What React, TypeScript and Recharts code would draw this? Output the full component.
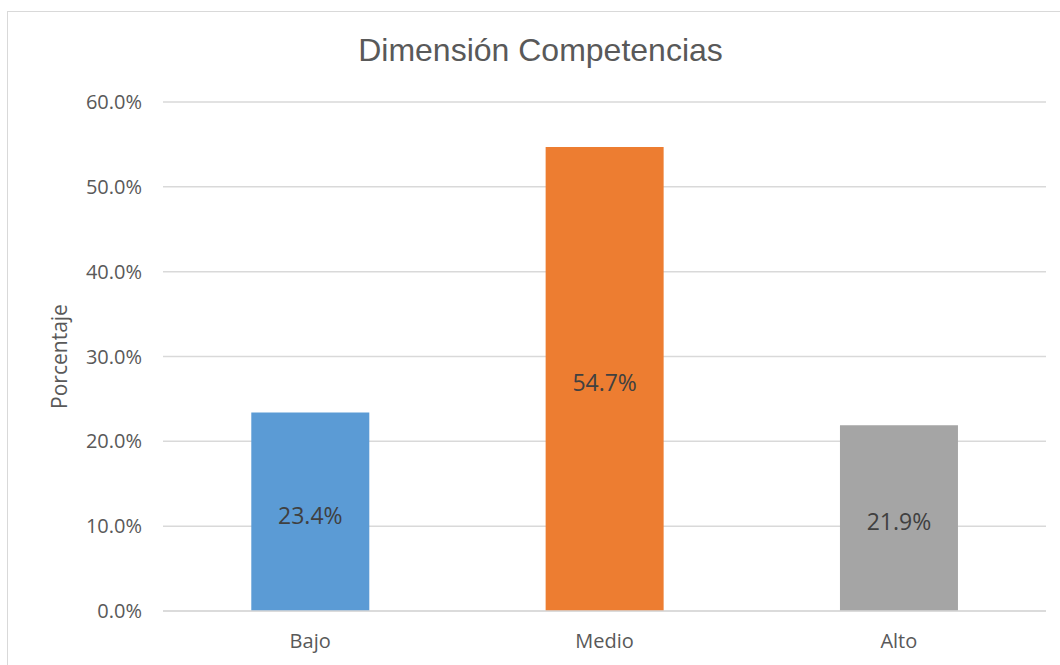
import { BarChart, Bar, XAxis, YAxis, CartesianGrid, Cell, LabelList, Label } from 'recharts'

const categories = ['Bajo', 'Medio', 'Alto']
const values = [0.234, 0.547, 0.219]
const barColors = ['#5B9BD5', '#ED7D31', '#A5A5A5']
const yTicks = [0, 0.1, 0.2, 0.3, 0.4, 0.5, 0.6]

const data = categories.map((name, i) => ({ name, value: values[i] }))

const pct = (v: number) => `${(v * 100).toFixed(1)}%`
const font = '"Open Sans", sans-serif'

export default function App() {
  return (
    <div style={{ position: 'absolute', left: 0, top: 0, width: 1060, height: 665, overflow: 'hidden', background: '#fff', fontFamily: font }}>
      <div style={{ position: 'absolute', left: 7, top: 11, width: 1200, height: 800, border: '1px solid #d9d9d9' }} />
      <div style={{ position: 'absolute', left: 0, top: 34, width: 1081, textAlign: 'center', fontSize: 32, lineHeight: '32px', color: '#595959', fontFamily: '"Liberation Sans", Arial, sans-serif' }}>
        Dimensión Competencias
      </div>
      <div style={{ position: 'absolute', left: 0, top: 0 }}>
        <BarChart width={1060} height={665} data={data} margin={{ top: 102, right: 14, bottom: 0, left: 0 }} barCategoryGap="30%">
          <CartesianGrid vertical={false} stroke="#d9d9d9" strokeWidth={1.5} />
          <XAxis
            dataKey="name"
            height={54}
            tickSize={0}
            tickMargin={23}
            axisLine={{ stroke: '#d9d9d9', strokeWidth: 1.5 }}
            tick={{ fill: '#595959', fontSize: 20, fontFamily: font }}
          />
          <YAxis
            width={163}
            domain={[0, 0.6]}
            ticks={yTicks}
            tickFormatter={pct}
            tickSize={0}
            tickMargin={21}
            axisLine={false}
            tick={{ fill: '#595959', fontSize: 20, fontFamily: font }}
          >
            <Label value="Porcentaje" angle={-90} position="insideLeft" offset={60} style={{ fill: '#595959', fontSize: 21, fontFamily: font, textAnchor: 'middle' }} />
          </YAxis>
          <Bar dataKey="value" isAnimationActive={false}>
            {data.map((d, i) => (
              <Cell key={d.name} fill={barColors[i]} />
            ))}
            <LabelList dataKey="value" position="center" dy={4} formatter={(v: any) => pct(Number(v))} style={{ fill: '#404040', fontSize: 23, fontFamily: font }} />
          </Bar>
        </BarChart>
      </div>
    </div>
  )
}
